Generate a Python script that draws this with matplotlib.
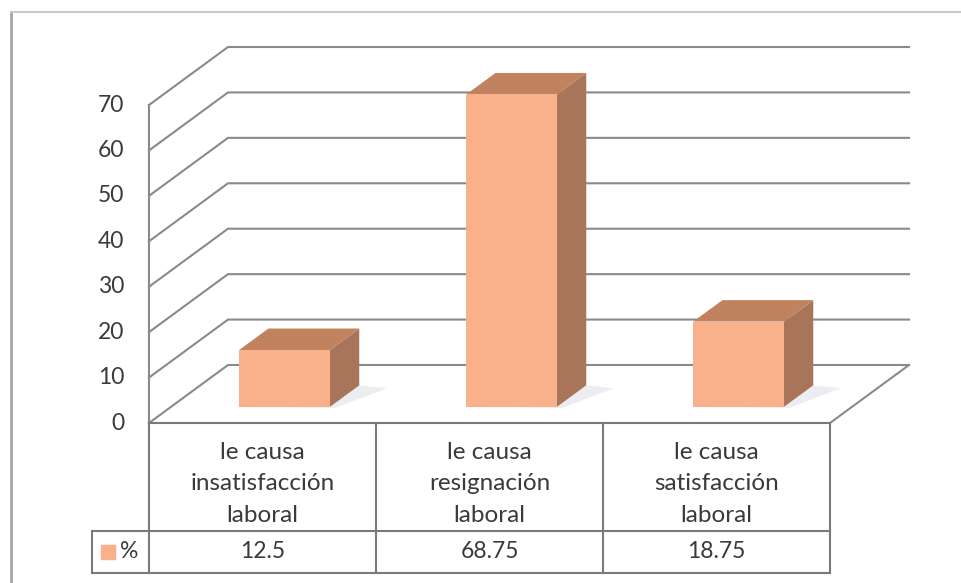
import matplotlib.pyplot as plt
from matplotlib.patches import Polygon
from matplotlib.lines import Line2D

categories = [["le causa", "insatisfacción", "laboral"],
              ["le causa", "resignación", "laboral"],
              ["le causa", "satisfacción", "laboral"]]
values = [12.5, 68.75, 18.75]
value_labels = ["12.5", "68.75", "18.75"]
yticks = [0, 10, 20, 30, 40, 50, 60, 70]
series_name = "%"

plt.rcParams['font.family'] = ['Lato', 'DejaVu Sans']
plt.rcParams['font.size'] = 16

W, H = 961, 583
PX_X = 227.0          # pixels per category
PX_Y = 318.0 / 70     # pixels per value unit
X0, Y0 = 149, 423     # pixel position of the origin
DX = 79 / PX_X        # depth offset of the back wall
DY = 58 / PX_Y

face_col = '#F9B18B'
side_col = '#A8745A'
top_col = '#C1835F'
grid_col = '#8A8A8A'
table_col = '#7A7A7A'
text_col = '#3A3A3A'


def proj(x, y, d):
    return (x + d * DX, y + d * DY)


fig = plt.figure(figsize=(W / 100, H / 100), dpi=100)
fig.patch.set_facecolor('white')
ax = fig.add_axes([0, 0, 1, 1])
ax.set_xlim(-X0 / PX_X, (W - X0) / PX_X)
ax.set_ylim(-(H - Y0) / PX_Y, Y0 / PX_Y)
ax.axis('off')

# chart frame
fig.add_artist(Line2D([11 / W, 11 / W], [0, 1 - 12 / H], color='#A5A5A5', lw=2))
fig.add_artist(Line2D([11 / W, 1], [1 - 12 / H, 1 - 12 / H], color='#C8C8C8', lw=1.5))

n = len(values)
top = yticks[-1]

# walls and gridlines
for v in yticks:
    p0 = proj(0, v, 0)
    p1 = proj(0, v, 1)
    p2 = proj(n, v, 1)
    ax.plot([p0[0], p1[0], p2[0]], [p0[1], p1[1], p2[1]], color=grid_col, lw=1.5, zorder=1)
    ax.text(-0.11, v, str(v), ha='right', va='center', color=text_col, fontsize=16.5)
ax.plot([0, 0], [0, top], color=grid_col, lw=1.5, zorder=1)
fr = proj(n, 0, 0)
br = proj(n, 0, 1)
ax.plot([fr[0], br[0]], [fr[1], br[1]], color=grid_col, lw=1.5, zorder=1)

# 3d bars
d0, d1 = 0.28, 0.65
w = 0.40
for i, v in enumerate(values):
    c = i + 0.5
    xl, xr = c - w / 2, c + w / 2
    shadow = [proj(xl, 0, d0), proj(xr + 0.03, 0, d0 - 0.02),
              proj(xr + 0.14, 0, d1 - 0.05), proj(xr, 0, d1)]
    ax.add_patch(Polygon(shadow, closed=True, fc='#A9B0C0', ec='none', alpha=0.22, zorder=2))
    front = [proj(xl, 0, d0), proj(xr, 0, d0), proj(xr, v, d0), proj(xl, v, d0)]
    side = [proj(xr, 0, d0), proj(xr, 0, d1), proj(xr, v, d1), proj(xr, v, d0)]
    lid = [proj(xl, v, d0), proj(xr, v, d0), proj(xr, v, d1), proj(xl, v, d1)]
    ax.add_patch(Polygon(side, closed=True, fc=side_col, ec='none', zorder=3))
    ax.add_patch(Polygon(lid, closed=True, fc=top_col, ec='none', zorder=3))
    ax.add_patch(Polygon(front, closed=True, fc=face_col, ec='none', zorder=4))

# data table
row1 = -(531 - Y0) / PX_Y
row2 = -(573 - Y0) / PX_Y
leg_x = -(X0 - 92) / PX_X
ax.plot([0, n], [0, 0], color=table_col, lw=1.5, zorder=5)
for k in range(n + 1):
    ax.plot([k, k], [0, row2], color=table_col, lw=1.5, zorder=5)
ax.plot([leg_x, n], [row1, row1], color=table_col, lw=1.5, zorder=5)
ax.plot([leg_x, n], [row2, row2], color=table_col, lw=1.5, zorder=5)
ax.plot([leg_x, leg_x], [row1, row2], color=table_col, lw=1.5, zorder=5)

for i, lines in enumerate(categories):
    ax.text(i + 0.5, row1 / 2 - 1.5, "\n".join(lines), ha='center', va='center',
            color=text_col, fontsize=17.5, linespacing=1.6)
    ax.text(i + 0.5, (row1 + row2) / 2, value_labels[i], ha='center', va='center',
            color=text_col, fontsize=16.5)

ax.scatter([-(X0 - 108) / PX_X], [(row1 + row2) / 2], marker='s', s=90,
           color=face_col, zorder=6)
ax.text(-(X0 - 120) / PX_X, (row1 + row2) / 2, series_name, ha='left', va='center',
        color=text_col, fontsize=16.5)

fig.savefig('out.png', dpi=100)
